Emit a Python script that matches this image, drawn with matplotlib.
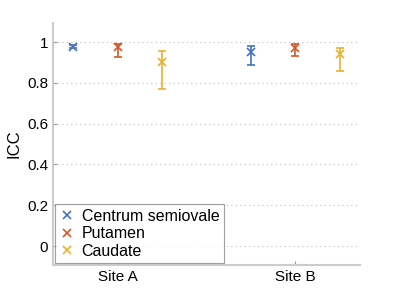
import matplotlib
matplotlib.use("Agg")
import matplotlib.pyplot as plt
from matplotlib.lines import Line2D
import numpy as np

plt.rcParams['font.family'] = ['Liberation Sans', 'DejaVu Sans']

sites = ["Site A", "Site B"]
regions = ["Centrum semiovale", "Putamen", "Caudate"]
icc = [[0.978, 0.949], [0.974, 0.969], [0.900, 0.940]]
lower = [[0.970, 0.887], [0.926, 0.933], [0.770, 0.858]]
upper = [[0.986, 0.979], [0.990, 0.989], [0.957, 0.972]]
colors = ["#4472C4", "#D4582A", "#E9B030"]

fig = plt.figure(figsize=(4, 3), dpi=100)
ax = fig.add_axes([0.1325, 0.1167, 0.7675, 0.8063])

x = np.arange(1, len(sites) + 1)
offsets = [-0.25, 0.0, 0.25]
for i, r in enumerate(regions):
    v = np.array(icc[i]); lo = np.array(lower[i]); hi = np.array(upper[i])
    ax.errorbar(x + offsets[i], v, yerr=[v - lo, hi - v], fmt='x', color=colors[i],
                ecolor=colors[i], capsize=3, markersize=6, markeredgewidth=1.2,
                elinewidth=1.2)

ax.set_xlim(0.635, 2.365)
ax.set_ylim(-0.093, 1.093)
ax.set_xticks(x)
ax.set_xticklabels(sites, fontsize=11)
ax.set_yticks([0, 0.2, 0.4, 0.6, 0.8, 1])
ax.set_yticklabels(["0", "0.2", "0.4", "0.6", "0.8", "1"], fontsize=11)
ax.set_ylabel("ICC", fontsize=12)
ax.yaxis.grid(True, linestyle=(0, (1, 3)), color="#bbbbbb", linewidth=0.8)
ax.set_axisbelow(True)
for s in ["top", "right"]:
    ax.spines[s].set_visible(False)
for s in ["left", "bottom"]:
    ax.spines[s].set_color("#cccccc")
    ax.spines[s].set_linewidth(1.5)
ax.tick_params(direction='in', length=3, color="#999999", labelcolor="black")

handles = [Line2D([], [], marker='x', linestyle='none', color=c, markersize=6,
                  markeredgewidth=1.2) for c in colors]
leg = ax.legend(handles, regions, loc='lower left', fontsize=11.5, frameon=True,
                fancybox=False, borderaxespad=0.1, handletextpad=0.4,
                labelspacing=0.15, handlelength=1.0, borderpad=0.3)
leg.get_frame().set_edgecolor("#888888")
leg.get_frame().set_linewidth(0.8)

fig.savefig("out.png", dpi=100)
